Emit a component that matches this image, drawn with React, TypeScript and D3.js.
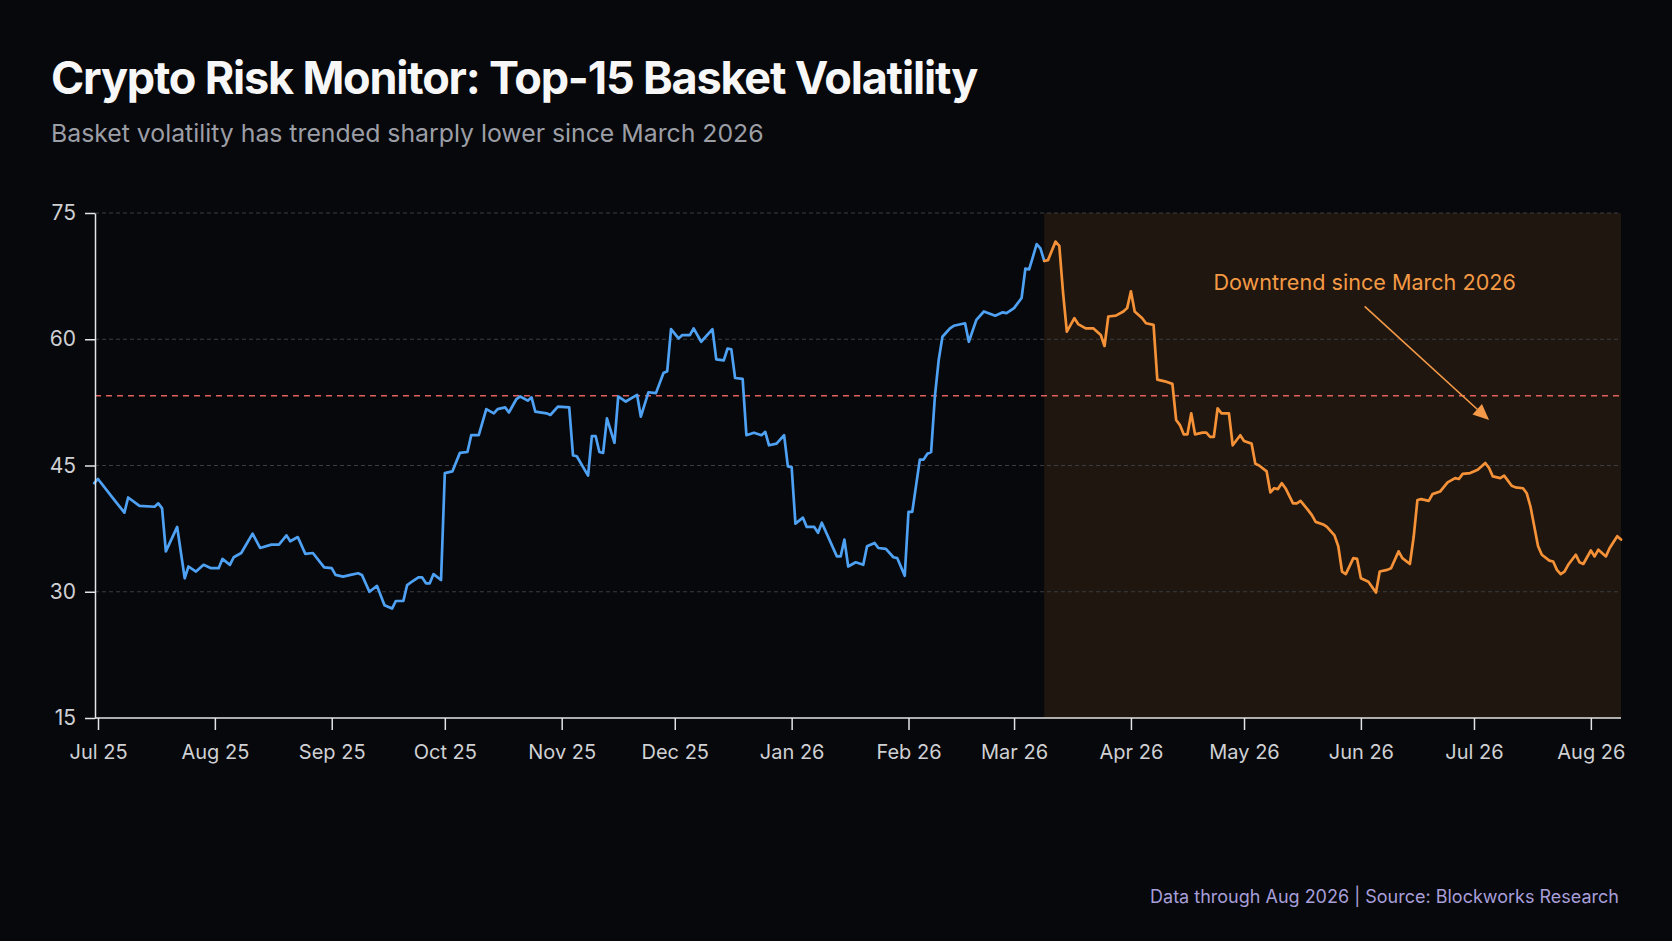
import React, { useRef, useEffect } from 'react';
import * as d3 from 'd3';

// Canvas
const WIDTH = 1672;
const HEIGHT = 941;
const plot = { left: 95, right: 1621, top: 213, bottom: 718 };

// Data: day offsets from Jul 1 2025 and basket volatility
const seriesStart = new Date(2025, 6, 1);
const dayOffsets = [
  -1, 0, 4, 7, 8, 11, 15, 16, 17, 18, 21, 23, 24, 26, 28, 30, 32, 33, 35, 36, 38, 41, 43, 46, 48,
  50, 51, 53, 55, 57, 60, 62, 63, 65, 67, 69, 70, 72, 74, 76, 78, 79, 81, 82, 83, 85, 86, 87, 88,
  89, 91, 92, 94, 96, 98, 99, 101, 103, 105, 106, 108, 109, 111, 112, 114, 115, 116, 119, 120, 122,
  125, 126, 127, 130, 131, 132, 133, 134, 135, 137, 138, 140, 143, 144, 146, 148, 150, 151, 152,
  154, 155, 157, 158, 160, 163, 164, 166, 167, 168, 169, 171, 172, 174, 176, 177, 178, 180, 182,
  183, 184, 185, 187, 188, 190, 191, 192, 196, 197, 198, 199, 201, 203, 204, 206, 207, 209, 211,
  212, 214, 215, 216, 218, 219, 220, 221, 222, 223, 224, 226, 227, 230, 231, 233, 235, 238, 240,
  241, 243, 245, 246, 247, 248, 249, 250, 251, 252, 254, 255, 256, 257, 259, 260, 262, 264, 266,
  267, 268, 270, 272, 273, 274, 275, 277, 278, 280, 281, 283, 285, 286, 287, 288, 289, 290, 291,
  293, 294, 295, 296, 297, 298, 300, 301, 303, 304, 306, 307, 308, 310, 311, 312, 313, 314, 315,
  317, 318, 319, 321, 322, 323, 325, 326, 328, 329, 330, 331, 333, 334, 335, 336, 337, 339, 340,
  342, 343, 345, 346, 348, 349, 350, 351, 353, 354, 356, 358, 360, 361, 362, 364, 366, 368, 369,
  370, 372, 373, 375, 376, 378, 379, 380, 382, 383, 385, 386, 387, 388, 389, 390, 392, 393, 394,
  396, 397, 398, 400, 401, 403, 404,
];
const volatility = [
  42.9, 43.4, 41.1, 39.4, 41.2, 40.2, 40.1, 40.5, 39.9, 34.8, 37.7, 31.6, 33.0, 32.4, 33.2, 32.8,
  32.8, 33.9, 33.2, 34.1, 34.6, 36.9, 35.2, 35.6, 35.6, 36.7, 36.0, 36.5, 34.5, 34.6, 32.9, 32.8,
  32.0, 31.8, 32.0, 32.2, 32.0, 30.0, 30.7, 28.4, 28.0, 28.9, 28.9, 30.8, 31.1, 31.7, 31.7, 31.0,
  31.0, 32.1, 31.4, 44.1, 44.3, 46.5, 46.6, 48.6, 48.6, 51.7, 51.2, 51.7, 51.9, 51.3, 52.9, 53.2,
  52.7, 53.1, 51.4, 51.2, 51.0, 52.0, 51.9, 46.2, 46.1, 43.8, 48.5, 48.5, 46.6, 46.5, 50.6, 47.7,
  53.2, 52.6, 53.4, 50.8, 53.7, 53.6, 56.0, 56.2, 61.2, 60.1, 60.5, 60.5, 61.3, 59.7, 61.2, 57.6,
  57.5, 58.9, 58.8, 55.4, 55.3, 48.6, 48.9, 48.6, 49.0, 47.4, 47.6, 48.6, 44.9, 44.8, 38.1, 38.8,
  37.7, 37.7, 37.0, 38.2, 34.2, 34.2, 36.2, 33.0, 33.5, 33.2, 35.4, 35.8, 35.2, 35.1, 34.1, 34.0,
  31.9, 39.5, 39.5, 45.7, 45.7, 46.4, 46.6, 53.2, 57.5, 60.3, 61.3, 61.6, 61.9, 59.7, 62.3, 63.3,
  62.8, 63.2, 63.1, 63.7, 64.9, 68.4, 68.3, 69.8, 71.3, 70.8, 69.3, 69.4, 71.6, 71.1, 65.5, 60.9,
  62.5, 61.8, 61.3, 61.3, 60.5, 59.2, 62.7, 62.8, 63.3, 63.7, 65.7, 63.3, 62.5, 61.9, 61.7, 55.2,
  55.0, 54.7, 50.4, 49.8, 48.7, 48.7, 51.2, 48.7, 48.9, 48.9, 48.4, 48.4, 51.8, 51.2, 51.2, 47.4,
  48.6, 47.9, 47.6, 45.2, 45.0, 44.3, 41.8, 42.3, 42.2, 42.9, 42.3, 40.5, 40.5, 40.8, 39.7, 39.1,
  38.3, 38.0, 37.7, 36.7, 35.4, 32.4, 32.1, 34.0, 33.9, 31.6, 31.4, 31.2, 29.9, 32.4, 32.6, 32.8,
  34.8, 34.0, 33.3, 36.5, 40.9, 41.0, 40.8, 41.6, 41.9, 43.0, 43.5, 43.4, 44.0, 44.1, 44.5, 45.3,
  44.7, 43.7, 43.5, 43.8, 42.6, 42.4, 42.3, 41.7, 40.1, 35.4, 34.4, 33.7, 33.6, 32.6, 32.1, 32.4,
  33.2, 34.4, 33.5, 33.3, 34.9, 34.2, 35.0, 34.2, 35.2, 36.6, 36.2,
];

const xDomain = [new Date(2025, 6, 1), new Date(2026, 7, 9)];
const yDomain = [15, 75];
const yTicks = [15, 30, 45, 60, 75];
const downtrendStart = new Date(2026, 2, 9);
const referenceLevel = 53.3;

// Text
const title = 'Crypto Risk Monitor: Top-15 Basket Volatility';
const subtitle = 'Basket volatility has trended sharply lower since March 2026';
const annotationText = 'Downtrend since March 2026';
const annotationAt = { date: new Date(2026, 5, 2), value: 65.8 };
const arrowFrom = { date: new Date(2026, 5, 2), value: 63.9 };
const arrowTo = { date: new Date(2026, 6, 5), value: 50.4 };
const footer = 'Data through Aug 2026 | Source: Blockworks Research';

// Colours
const BG = '#07080b';
const BLUE = '#4ea1f3';
const ORANGE = '#f59238';
const FONT = 'Inter, "Noto Sans", sans-serif';

export default function App() {
  const svgRef = useRef(null);

  useEffect(() => {
    document.body.style.margin = '0';
    document.body.style.background = BG;

    const svg = d3.select(svgRef.current);
    svg.selectAll('*').remove();

    const data = dayOffsets.map((d, i) => ({
      date: d3.timeDay.offset(seriesStart, d),
      value: volatility[i],
    }));

    // Scales
    const xScale = d3.scaleTime().domain(xDomain).range([98, plot.right]);
    const yScale = d3.scaleLinear().domain(yDomain).range([plot.bottom, plot.top]);

    svg.append('rect').attr('width', WIDTH).attr('height', HEIGHT).attr('fill', BG);

    // Title block
    svg
      .append('text')
      .attr('x', 51)
      .attr('y', 94)
      .attr('fill', '#f7f7f7')
      .style('font-family', FONT)
      .style('font-weight', 700)
      .style('font-size', '45px')
      .style('letter-spacing', '-1.2px')
      .text(title);

    svg
      .append('text')
      .attr('x', 51)
      .attr('y', 142)
      .attr('fill', '#9c9ea6')
      .style('font-family', FONT)
      .style('font-size', '24.8px')
      .text(subtitle);

    // Downtrend shading
    const shadeX = xScale(downtrendStart);
    svg
      .append('rect')
      .attr('x', shadeX)
      .attr('y', plot.top)
      .attr('width', plot.right - shadeX)
      .attr('height', plot.bottom - plot.top)
      .attr('fill', ORANGE)
      .attr('opacity', 0.1);

    // Gridlines
    svg
      .append('g')
      .selectAll('line')
      .data(yTicks.filter((t) => t !== yDomain[0]))
      .join('line')
      .attr('x1', plot.left)
      .attr('x2', plot.right)
      .attr('y1', (d) => yScale(d))
      .attr('y2', (d) => yScale(d))
      .attr('stroke', '#3b3c41')
      .attr('stroke-width', 1)
      .attr('stroke-dasharray', '4 3');

    // Reference level
    svg
      .append('line')
      .attr('x1', plot.left)
      .attr('x2', plot.right)
      .attr('y1', yScale(referenceLevel))
      .attr('y2', yScale(referenceLevel))
      .attr('stroke', '#e0605c')
      .attr('stroke-width', 1.5)
      .attr('stroke-dasharray', '6 5');

    // Lines: before and after the downtrend start
    const line = d3
      .line()
      .x((d) => xScale(d.date))
      .y((d) => yScale(d.value));

    const before = data.filter((d) => d.date <= downtrendStart);
    const after = data.filter((d) => d.date >= downtrendStart);

    svg
      .append('path')
      .datum(before)
      .attr('d', line)
      .attr('fill', 'none')
      .attr('stroke', BLUE)
      .attr('stroke-width', 2.7)
      .attr('stroke-linejoin', 'round')
      .attr('stroke-linecap', 'round');

    svg
      .append('path')
      .datum(after)
      .attr('d', line)
      .attr('fill', 'none')
      .attr('stroke', ORANGE)
      .attr('stroke-width', 2.7)
      .attr('stroke-linejoin', 'round')
      .attr('stroke-linecap', 'round');

    // Axes
    const axisColor = '#e4e4e6';
    const labelColor = '#cfd0d4';

    const yAxis = svg
      .append('g')
      .attr('transform', `translate(${plot.left},0)`)
      .call(d3.axisLeft(yScale).tickValues(yTicks).tickSize(10).tickPadding(9).tickSizeOuter(0));
    yAxis.select('.domain').attr('stroke', axisColor).attr('stroke-width', 1.5);
    yAxis.selectAll('.tick line').attr('stroke', axisColor).attr('stroke-width', 1.5);
    yAxis
      .selectAll('.tick text')
      .attr('fill', labelColor)
      .style('font-family', FONT)
      .style('font-size', '21px');

    const xAxis = svg
      .append('g')
      .attr('transform', `translate(0,${plot.bottom})`)
      .call(
        d3
          .axisBottom(xScale)
          .ticks(d3.timeMonth.every(1))
          .tickFormat(d3.timeFormat('%b %y'))
          .tickSize(12)
          .tickPadding(15)
          .tickSizeOuter(0),
      );
    xAxis
      .select('.domain')
      .attr('d', `M${plot.left},0H${plot.right}`)
      .attr('stroke', axisColor)
      .attr('stroke-width', 1.5);
    xAxis.selectAll('.tick line').attr('stroke', axisColor).attr('stroke-width', 1.5);
    xAxis
      .selectAll('.tick text')
      .attr('fill', labelColor)
      .style('font-family', FONT)
      .style('font-size', '20px');

    // Annotation
    svg
      .append('text')
      .attr('x', xScale(annotationAt.date))
      .attr('y', yScale(annotationAt.value))
      .attr('text-anchor', 'middle')
      .attr('fill', '#f49a45')
      .style('font-family', FONT)
      .style('font-size', '21.6px')
      .text(annotationText);

    const ax1 = xScale(arrowFrom.date);
    const ay1 = yScale(arrowFrom.value);
    const ax2 = xScale(arrowTo.date);
    const ay2 = yScale(arrowTo.value);
    const angle = Math.atan2(ay2 - ay1, ax2 - ax1);
    const headLen = 16;
    const headW = 7;
    const bx = ax2 - headLen * Math.cos(angle);
    const by = ay2 - headLen * Math.sin(angle);

    svg
      .append('line')
      .attr('x1', ax1)
      .attr('y1', ay1)
      .attr('x2', bx)
      .attr('y2', by)
      .attr('stroke', '#f59a48')
      .attr('stroke-width', 1.6);

    svg
      .append('path')
      .attr(
        'd',
        `M${ax2},${ay2}L${bx + headW * Math.sin(angle)},${by - headW * Math.cos(angle)}L${
          bx - headW * Math.sin(angle)
        },${by + headW * Math.cos(angle)}Z`,
      )
      .attr('fill', '#f59a48');

    // Footer
    svg
      .append('text')
      .attr('x', 1619)
      .attr('y', 903)
      .attr('text-anchor', 'end')
      .attr('fill', '#a79fda')
      .style('font-family', FONT)
      .style('font-size', '18px')
      .text(footer);
  }, []);

  return <svg ref={svgRef} width={WIDTH} height={HEIGHT} style={{ display: 'block' }} />;
}
